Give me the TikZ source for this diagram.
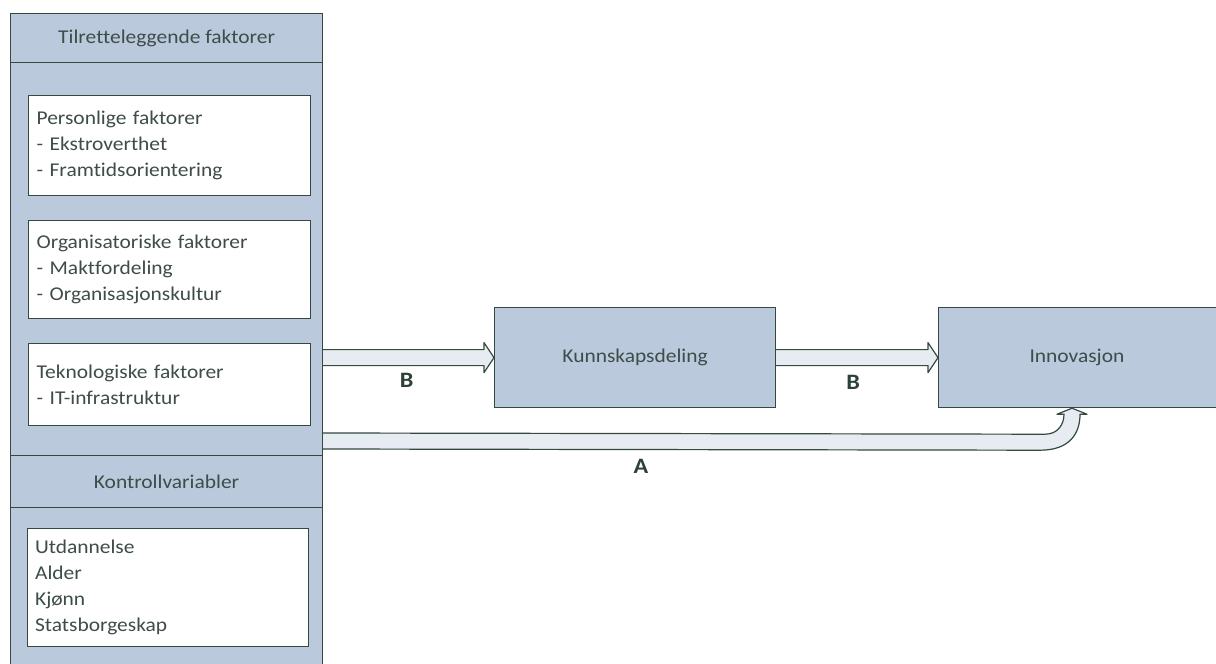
\documentclass[tikz,border=0pt]{standalone}
\usepackage{fontspec}
\setmainfont{Carlito}[FakeStretch=1.1, Ligatures=NoCommon]
\usetikzlibrary{calc}
\definecolor{boxfill}{HTML}{BACADC}
\definecolor{edge}{HTML}{34493F}
\definecolor{txt}{HTML}{3E4C4A}
\definecolor{shaftfill}{HTML}{E6ECF2}
\definecolor{lbl}{HTML}{2C4236}
\tikzset{
  panel/.style={draw=edge, fill=boxfill, line width=1.2pt, anchor=north west, inner sep=0pt, text=txt,
    font=\fontsize{19.5}{26}\selectfont},
  listbox/.style={draw=edge, fill=white, line width=1.2pt, anchor=north west, inner sep=0pt, text=txt,
    align=left, font=\fontsize{19.5}{26}\selectfont},
  plaintext/.style={text=txt, inner sep=0pt, font=\fontsize{19.5}{26}\selectfont},
  arrowfill/.style={fill=shaftfill},
  arrowline/.style={draw=edge, line width=1.2pt, line join=round},
  lab/.style={text=lbl, font=\fontsize{22}{24}\selectfont\bfseries}
}
\newcommand{\myfatarrow}[2]{%
  \fill[arrowfill] ($(#1)+(0,-8)$) -- ($(#2)+(-10,-8)$) -- ($(#2)+(-10,-15)$) -- (#2) -- ($(#2)+(-10,15)$) -- ($(#2)+(-10,8)$) -- ($(#1)+(0,8)$) -- cycle;
  \draw[arrowline] ($(#1)+(0,-8)$) -- ($(#2)+(-10,-8)$) -- ($(#2)+(-10,-15)$) -- (#2) -- ($(#2)+(-10,15)$) -- ($(#2)+(-10,8)$) -- ($(#1)+(0,8)$);
}
\begin{document}
\begin{tikzpicture}[x=1pt,y=-1pt]
\useasboundingbox (0,0) rectangle (1216,664);
\fill[white] (0,0) rectangle (1216,664);
% left column
\node[panel, minimum width=312, minimum height=49] (h1) at (10,13) {Tilretteleggende faktorer};
\node[panel, minimum width=312, minimum height=393] (b1) at (10,62) {};
\node[panel, minimum width=312, minimum height=52] (h2) at (10,455) {Kontrollvariabler};
\node[panel, minimum width=312, minimum height=215] (b2) at (10,507) {};
% inner boxes
\node[listbox, minimum width=282, minimum height=100, text width=266] (pers) at (28,95)
  {Personlige faktorer\\- Ekstroverthet\\- Framtidsorientering};
\node[listbox, minimum width=282, minimum height=98, text width=266] (org) at (28,220)
  {Organisatoriske faktorer\\- Maktfordeling\\- Organisasjonskultur};
\node[listbox, minimum width=282, minimum height=82, text width=266] (tek) at (28,343)
  {Teknologiske faktorer\\- IT-infrastruktur};
\node[listbox, minimum width=281, minimum height=118, text width=266] (ktr) at (27,528)
  {Utdannelse\\Alder\\Kjønn\\Statsborgeskap};
% main boxes
\node[panel, minimum width=281, minimum height=100] (kd) at (494,307) {Kunnskapsdeling};
\node[panel, minimum width=290, minimum height=100] (inn) at (938,307) {};
\node[plaintext] (innt) at (1077,357) {Innovasjon};
% straight arrows
\coordinate (b1s) at (b1.east |- kd.west);
\myfatarrow{b1s}{kd.west}
\coordinate (b2s) at (kd.east);
\coordinate (b2e) at (inn.west |- kd.east);
\myfatarrow{b2s}{b2e}
\node[lab] (lB1) at ($(b1s)!0.5!(kd.west)+(-2,23)$) {B};
\node[lab] (lB2) at ($(b2s)!0.5!(b2e)+(-4,25)$) {B};
% curved arrow A
\coordinate (as) at ($(h1.north east)+(0,428)$);
\coordinate (T) at (inn.south -| 1072,0);
\fill[arrowfill] ($(as)+(0,-8)$) -- ($(T)+(-27,26)$) .. controls ($(T)+(-14,26)$) and ($(T)+(-8,16)$) .. ($(T)+(-8,6)$)
  -- ($(T)+(-15,6)$) -- (T) -- ($(T)+(15,6)$) -- ($(T)+(8,6)$)
  .. controls ($(T)+(8,25)$) and ($(T)+(-2,42)$) .. ($(T)+(-32,42)$) -- ($(as)+(0,8)$) -- cycle;
\draw[arrowline] ($(as)+(0,-8)$) -- ($(T)+(-27,26)$) .. controls ($(T)+(-14,26)$) and ($(T)+(-8,16)$) .. ($(T)+(-8,6)$)
  -- ($(T)+(-15,6)$) -- (T) -- ($(T)+(15,6)$) -- ($(T)+(8,6)$)
  .. controls ($(T)+(8,25)$) and ($(T)+(-2,42)$) .. ($(T)+(-32,42)$) -- ($(as)+(0,8)$);
\node[lab] (lA) at (641,466) {A};
\end{tikzpicture}
\end{document}
